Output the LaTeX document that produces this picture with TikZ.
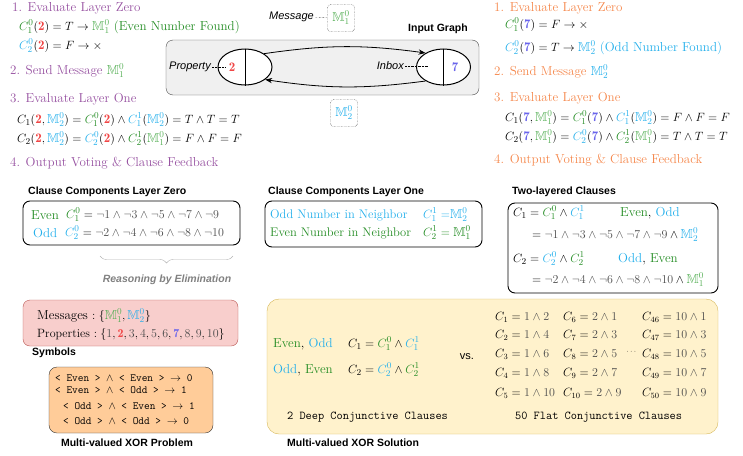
\documentclass[tikz,border=0pt]{standalone}
\usepackage{amsmath,amssymb}
\usepackage{fontspec}
\newfontfamily\helv{Liberation Sans}
\usetikzlibrary{arrows.meta,shapes.geometric,decorations.pathreplacing}

\definecolor{stepPurple}{RGB}{150,80,160}
\definecolor{stepOrange}{RGB}{245,135,75}
\definecolor{evenGreen}{RGB}{35,140,35}
\definecolor{msgGreen}{RGB}{85,175,85}
\definecolor{oddCyan}{RGB}{35,175,235}
\definecolor{propRed}{RGB}{240,70,70}
\definecolor{propBlue}{RGB}{105,100,235}
\definecolor{litGray}{RGB}{75,75,75}
\definecolor{symFill}{RGB}{248,206,204}
\definecolor{symDraw}{RGB}{184,84,80}
\definecolor{xorFill}{RGB}{255,204,153}
\definecolor{solFill}{RGB}{255,242,204}
\definecolor{solDraw}{RGB}{214,182,86}

% messages, properties and clause symbols
\newcommand{\Mone}{\textcolor{msgGreen}{\mathbb{M}_1^0}}
\newcommand{\Mtwo}{\textcolor{oddCyan}{\mathbb{M}_2^0}}
\newcommand{\pTwo}{\textcolor{propRed}{\mathbf{2}}}
\newcommand{\pSeven}{\textcolor{propBlue}{\mathbf{7}}}
\newcommand{\Cg}[2]{\textcolor{evenGreen}{C_{#1}^{#2}}}
\newcommand{\Cc}[2]{\textcolor{oddCyan}{C_{#1}^{#2}}}
\newcommand{\lit}[1]{\textcolor{litGray}{#1}}

\begin{document}
\begin{tikzpicture}[x=1pt, y=-1pt, font=\fontsize{13}{15}\selectfont,
  txt/.style={anchor=west, inner sep=0pt},
  headL/.style={txt, text=stepPurple},
  headR/.style={txt, text=stepOrange},
  title/.style={txt, font=\helv\bfseries\fontsize{10.5}{12}\selectfont},
  lbl/.style={inner sep=1pt, font=\helv\itshape\fontsize{11}{13}\selectfont},
  vert/.style={ellipse, draw, line width=1pt, fill=white, minimum width=54,
               minimum height=36, inner sep=0pt},
  msgbox/.style={draw, densely dotted, rounded corners=3pt, minimum size=27,
                 inner sep=0pt},
  panel/.style={draw, line width=0.9pt, rounded corners=7pt},
  xor/.style={txt, font=\ttfamily\fontsize{11}{13}\selectfont},
  mono/.style={txt, font=\ttfamily\fontsize{12}{14}\selectfont},
  flat/.style={txt, font=\fontsize{12}{14}\selectfont}
]
  \useasboundingbox (0,0) rectangle (743,455);

  % Node holding 2
  \node[headL] (l1) at (12,8) {1. Evaluate Layer Zero};
  \node[txt] (l1a) at (19,27) {$\Cg{1}{0}(\pTwo) = T \rightarrow \Mone$ \textcolor{evenGreen}{(Even Number Found)}};
  \node[txt] (l1b) at (19,46) {$\Cc{2}{0}(\pTwo) = F \rightarrow \times$};
  \node[headL] (l2) at (10,71) {2. Send Message $\Mone$};
  \node[headL] (l3) at (10,99) {3. Evaluate Layer One};
  \node[txt] (l3a) at (17,120) {$C_1(\pTwo, \Mtwo) = \Cg{1}{0}(\pTwo) \wedge \Cc{1}{1}(\Mtwo) = T \wedge T = T$};
  \node[txt] (l3b) at (17,139) {$C_2(\pTwo, \Mtwo) = \Cc{2}{0}(\pTwo) \wedge \Cg{2}{1}(\Mone) = F \wedge F = F$};
  \node[headL] (l4) at (10,163) {4. Output Voting \& Clause Feedback};

  % Node holding 7
  \node[headR] (r1) at (494,8) {1. Evaluate Layer Zero};
  \node[txt] (r1a) at (505,25) {$\Cg{1}{0}(\pSeven) = F \rightarrow \times$};
  \node[txt] (r1b) at (505,48) {$\Cc{2}{0}(\pSeven) = T \rightarrow \Mtwo$ \textcolor{oddCyan}{(Odd Number Found)}};
  \node[headR] (r2) at (494,72) {2. Send Message $\Mtwo$};
  \node[headR] (r3) at (494,98) {3. Evaluate Layer One};
  \node[txt] (r3a) at (505,118) {$C_1(\pSeven, \Mone) = \Cg{1}{0}(\pSeven) \wedge \Cc{1}{1}(\Mtwo) = F \wedge F = F$};
  \node[txt] (r3b) at (505,137) {$C_2(\pSeven, \Mone) = \Cc{2}{0}(\pSeven) \wedge \Cg{2}{1}(\Mone) = T \wedge T = T$};
  \node[headR] (r4) at (494,160) {4. Output Voting \& Clause Feedback};

  % Input graph
  \draw[fill=gray!12, draw=gray!60!black, rounded corners=7pt] (166,40) rectangle (479,95);
  \node[title] (ig) at (408,29) {Input Graph};
  \node[vert] (u) at (245,67) {};
  \node[vert] (v) at (443.5,67) {};
  \draw[line width=1pt] (u.north) -- (u.south);
  \draw[line width=1pt] (v.north) -- (v.south);
  \node (p2) at (232,67) {$\pTwo$};
  \node (p7) at (455,67) {$\pSeven$};
  \node[lbl, anchor=east] (prop) at (212,67) {Property};
  \draw[densely dotted] (prop) -- (p2);
  \node[lbl, anchor=east] (inbox) at (405,66) {Inbox};
  \coordinate (inboxEnd) at (428,66);
  \draw[densely dotted] (inbox) -- (inboxEnd);
  \draw[-{Stealth[length=7pt]}, thick] (u.35) to[bend left=8] (v.142);
  \draw[-{Stealth[length=7pt]}, thick] (v.218) to[bend left=8] (u.-32);

  % Messages
  \node[msgbox] (m1) at (341,18) {$\Mone$};
  \node[lbl, anchor=east] (msg) at (315,17) {Message};
  \draw[densely dotted] (msg) -- (m1);
  \node[msgbox] (m2) at (344,113) {$\Mtwo$};

  % Layer zero clauses
  \node[title] (t0) at (28,192) {Clause Components Layer Zero};
  \draw[panel] (23,201) rectangle (240,245);
  \node[txt] (z1) at (31,215) {\textcolor{evenGreen}{Even}};
  \node[txt] (z1c) at (66,215) {$\Cg{1}{0} = \lit{\neg 1 \wedge \neg 3 \wedge \neg 5 \wedge \neg 7 \wedge \neg 9}$};
  \node[txt] (z2) at (33,233) {\textcolor{oddCyan}{Odd}};
  \node[txt] (z2c) at (65,233) {$\Cc{2}{0} = \lit{\neg 2 \wedge \neg 4 \wedge \neg 6 \wedge \neg 8 \wedge \neg 10}$};
  \coordinate (braceL) at (100,256);
  \coordinate (braceR) at (233,256);
  \draw[gray!60, decorate, decoration={brace, mirror, amplitude=7pt}] (braceL) -- (braceR);
  \node[font=\helv\bfseries\itshape\fontsize{10.5}{12}\selectfont, text=gray] (elim) at (167,280) {Reasoning by Elimination};

  % Layer one clauses
  \node[title] (t1) at (268,192) {Clause Components Layer One};
  \draw[panel] (265,201) rectangle (482,247);
  \node[txt, font=\fontsize{12.5}{14}\selectfont] (o1) at (270,215) {\textcolor{oddCyan}{Odd Number in Neighbor}};
  \node[txt] (o1c) at (423,215) {$\textcolor{oddCyan}{C_1^1 =} \Mtwo$};
  \node[txt, font=\fontsize{12.5}{14}\selectfont] (o2) at (270,233) {\textcolor{evenGreen}{Even Number in Neighbor}};
  \node[txt] (o2c) at (423,233) {$\textcolor{evenGreen}{C_2^1 = \mathbb{M}_1^0}$};

  % Two-layered clauses
  \node[title] (t2) at (512,192) {Two-layered Clauses};
  \draw[panel] (508,203) rectangle (718,293);
  \node[txt] (c1) at (513,213) {$C_1 = \Cg{1}{0} \wedge \Cc{1}{1}$};
  \node[txt] (c1l) at (620,213) {\textcolor{evenGreen}{Even}, \textcolor{oddCyan}{Odd}};
  \node[txt] (c1e) at (532,235) {$= \lit{\neg 1 \wedge \neg 3 \wedge \neg 5 \wedge \neg 7 \wedge \neg 9} \wedge \Mtwo$};
  \node[txt] (c2) at (513,259) {$C_2 = \Cc{2}{0} \wedge \Cg{2}{1}$};
  \node[txt] (c2l) at (618,259) {\textcolor{oddCyan}{Odd}, \textcolor{evenGreen}{Even}};
  \node[txt] (c2e) at (532,280) {$= \lit{\neg 2 \wedge \neg 4 \wedge \neg 6 \wedge \neg 8 \wedge \neg 10} \wedge \Mone$};

  % Symbols
  \draw[fill=symFill, draw=symDraw, rounded corners=7pt] (23,300) rectangle (238,346);
  \node[txt] (msgs) at (37,316) {Messages $: \{\Mone, \Mtwo\}$};
  \node[flat] (props) at (37,334) {Properties $: \{\lit{1}, \pTwo, \lit{3}, \lit{4}, \lit{5}, \lit{6}, \pSeven, \lit{8}, \lit{9}, \lit{10}\}$};
  \node[title] (symT) at (32,353) {Symbols};

  % XOR problem
  \draw[fill=xorFill, draw=black!80, rounded corners=8pt] (49,367) rectangle (213,433);
  \foreach \y/\x/\a/\b/\r in {378/55/Even/Even/0, 390/55/Even/Odd/1, 406/63/Odd/Even/1, 421/63/Odd/Odd/0}
    \node[xor] (xor\y) at (\x,\y) {< \a\ > $\wedge$ < \b\ > $\rightarrow$ \r};
  \node[title, anchor=center] (xorT) at (127,443) {Multi-valued XOR Problem};

  % XOR solution
  \draw[fill=solFill, draw=solDraw, rounded corners=12pt] (267,299) rectangle (718,434);
  \node[txt] (d1l) at (273,344) {\textcolor{evenGreen}{Even}, \textcolor{oddCyan}{Odd}};
  \node[txt] (d1) at (348,344) {$C_1 = \Cg{1}{0} \wedge \Cc{1}{1}$};
  \node[txt] (d2l) at (273,370) {\textcolor{oddCyan}{Odd}, \textcolor{evenGreen}{Even}};
  \node[txt] (d2) at (348,370) {$C_2 = \Cc{2}{0} \wedge \Cg{2}{1}$};
  \node[font=\helv\fontsize{11}{13}\selectfont] (vs) at (467,357) {vs.};
  \node[mono] (deep) at (287,417) {2 Deep Conjunctive Clauses};
  \foreach \r/\y/\a/\b in {1/317/2/1, 2/335/4/3, 3/354/6/5, 4/373/8/7, 5/393/10/9} {
    \pgfmathtruncatemacro{\s}{\r+5}
    \pgfmathtruncatemacro{\t}{\r+45}
    \node[flat] (fa\r) at (495,\y) {$C_{\r} = \lit{1 \wedge \a}$};
    \node[flat] (fb\r) at (563,\y) {$C_{\s} = \lit{2 \wedge \b}$};
    \node[flat] (fc\r) at (642,\y) {$C_{\t} = \lit{10 \wedge \b}$};
  }
  \node[font=\fontsize{7}{8}\selectfont, inner sep=0pt] (dots) at (632,352) {$\cdots$};
  \node[mono] (flatT) at (515,417) {50 Flat Conjunctive Clauses};
  \node[title] (solT) at (287,443) {Multi-valued XOR Solution};
\end{tikzpicture}
\end{document}
